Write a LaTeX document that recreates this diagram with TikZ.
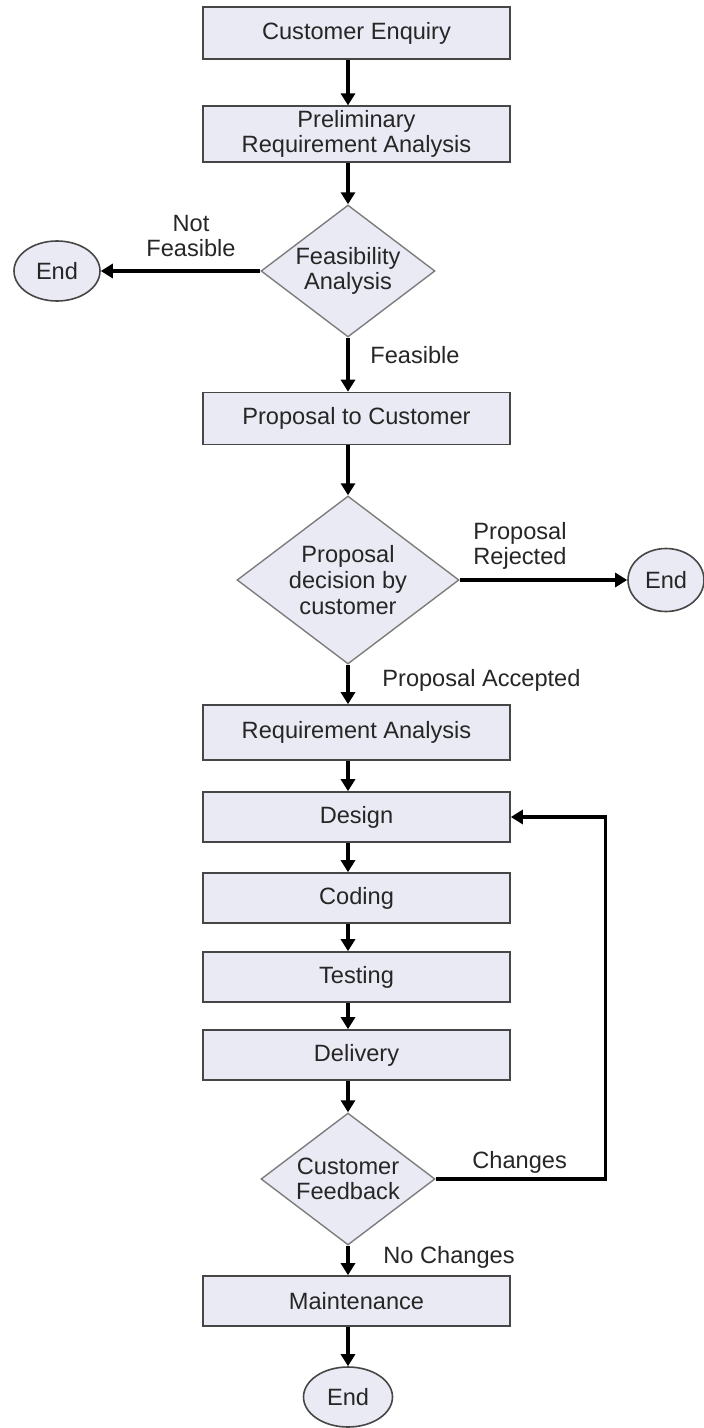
\documentclass[tikz,border=0pt]{standalone}
\usepackage{fontspec}
\setmainfont{Liberation Sans}
\usetikzlibrary{calc}
\usetikzlibrary{positioning}
\usetikzlibrary{shapes.geometric}
\usetikzlibrary{arrows.meta}
\definecolor{boxfill}{RGB}{234,234,244}
\definecolor{boxline}{RGB}{70,70,70}
\definecolor{diamline}{RGB}{125,125,125}
\tikzstyle{stepnode} = [draw=boxline, line width=0.8pt, fill=boxfill, rectangle, minimum width=153.5pt, minimum height=26pt, inner sep=2pt, align=center]
\tikzstyle{decnode} = [draw=diamline, line width=0.7pt, fill=boxfill, diamond, aspect=1.32, inner sep=0pt, align=center]
\tikzstyle{endnode} = [draw=boxline, line width=0.8pt, fill=boxfill, ellipse, minimum width=43pt, minimum height=30pt, inner sep=0pt]
\tikzstyle{flow} = [line width=1.6pt, -{Triangle[width=7pt,length=6pt]}]
\tikzstyle{lbl} = [inner sep=0pt, align=left]

\begin{document}
\begin{tikzpicture}[x=0.5pt, y=-0.5pt, font=\fontsize{11.8}{12.8}\selectfont, text=black!85]
\useasboundingbox (0,0) rectangle (704,1428);
\node[stepnode] (enquiry) at (356.5,33) {Customer Enquiry};
\node[stepnode, minimum height=27pt] (prelim) at (356.5,134) {Preliminary\\Requirement Analysis};
\node[decnode, minimum width=87pt, minimum height=66pt] (feas) at (348,271) {Feasibility\\Analysis};
\node[endnode] (endA) at (57,271) {End};
\node[stepnode] (proposal) at (356.5,418.5) {Proposal to Customer};
\node[decnode, minimum width=111pt, minimum height=84pt] (decision) at (348,580) {Proposal\\decision by\\customer};
\node[endnode, minimum width=38pt, minimum height=31.5pt] (endB) at (666,580) {End};
\node[stepnode, minimum height=27.5pt] (reqan) at (356.5,732.5) {Requirement Analysis};
\node[stepnode, minimum height=25pt] (design) at (356.5,817) {Design};
\node[stepnode, minimum height=25pt] (coding) at (356.5,898) {Coding};
\node[stepnode, minimum height=25pt] (testing) at (356.5,977) {Testing};
\node[stepnode, minimum height=25pt] (delivery) at (356.5,1055) {Delivery};
\node[decnode, minimum width=87pt, minimum height=66pt] (feedback) at (348,1179) {Customer\\Feedback};
\node[stepnode, minimum height=25pt] (maint) at (356.5,1301) {Maintenance};
\node[endnode, minimum width=44.5pt] (endC) at (348,1397) {End};
% labels on the branches
\node[lbl, align=center] (notfeas) at ($(feas.center)+(-157,-35)$) {Not\\Feasible};
\node[lbl, anchor=west] (feaslbl) at ($(feas.center)+(22,84)$) {Feasible};
\node[lbl, anchor=west] (rejlbl) at ($(decision.center)+(125,-34)$) {Proposal\\Rejected};
\node[lbl, anchor=west] (acclbl) at ($(decision.center)+(34,100)$) {Proposal Accepted};
\node[lbl, anchor=west] (chglbl) at ($(feedback.center)+(124,-17)$) {Changes};
\node[lbl, anchor=west] (nochglbl) at ($(feedback.center)+(35,78)$) {No Changes};
% connectors
\draw[flow] (enquiry.south -| feas.north) -- (prelim.north -| feas.north);
\draw[flow] (prelim.south -| feas.north) -- (feas.north);
\draw[flow] (feas.west) -- (endA.east);
\draw[flow] (feas.south) -- (proposal.north -| feas.south);
\draw[flow] (proposal.south -| decision.north) -- (decision.north);
\draw[flow] (decision.east) -- (endB.west);
\draw[flow] (decision.south) -- (reqan.north -| decision.south);
\draw[flow] (reqan.south -| feedback.north) -- (design.north -| feedback.north);
\draw[flow] (design.south -| feedback.north) -- (coding.north -| feedback.north);
\draw[flow] (coding.south -| feedback.north) -- (testing.north -| feedback.north);
\draw[flow] (testing.south -| feedback.north) -- (delivery.north -| feedback.north);
\draw[flow] (delivery.south -| feedback.north) -- (feedback.north);
\draw[flow] (feedback.south) -- (maint.north -| feedback.south);
\draw[flow] (maint.south -| endC.north) -- (endC.north);
\draw[flow] (feedback.east) -- ++(170,0) |- (design.east);
\end{tikzpicture}
\end{document}
